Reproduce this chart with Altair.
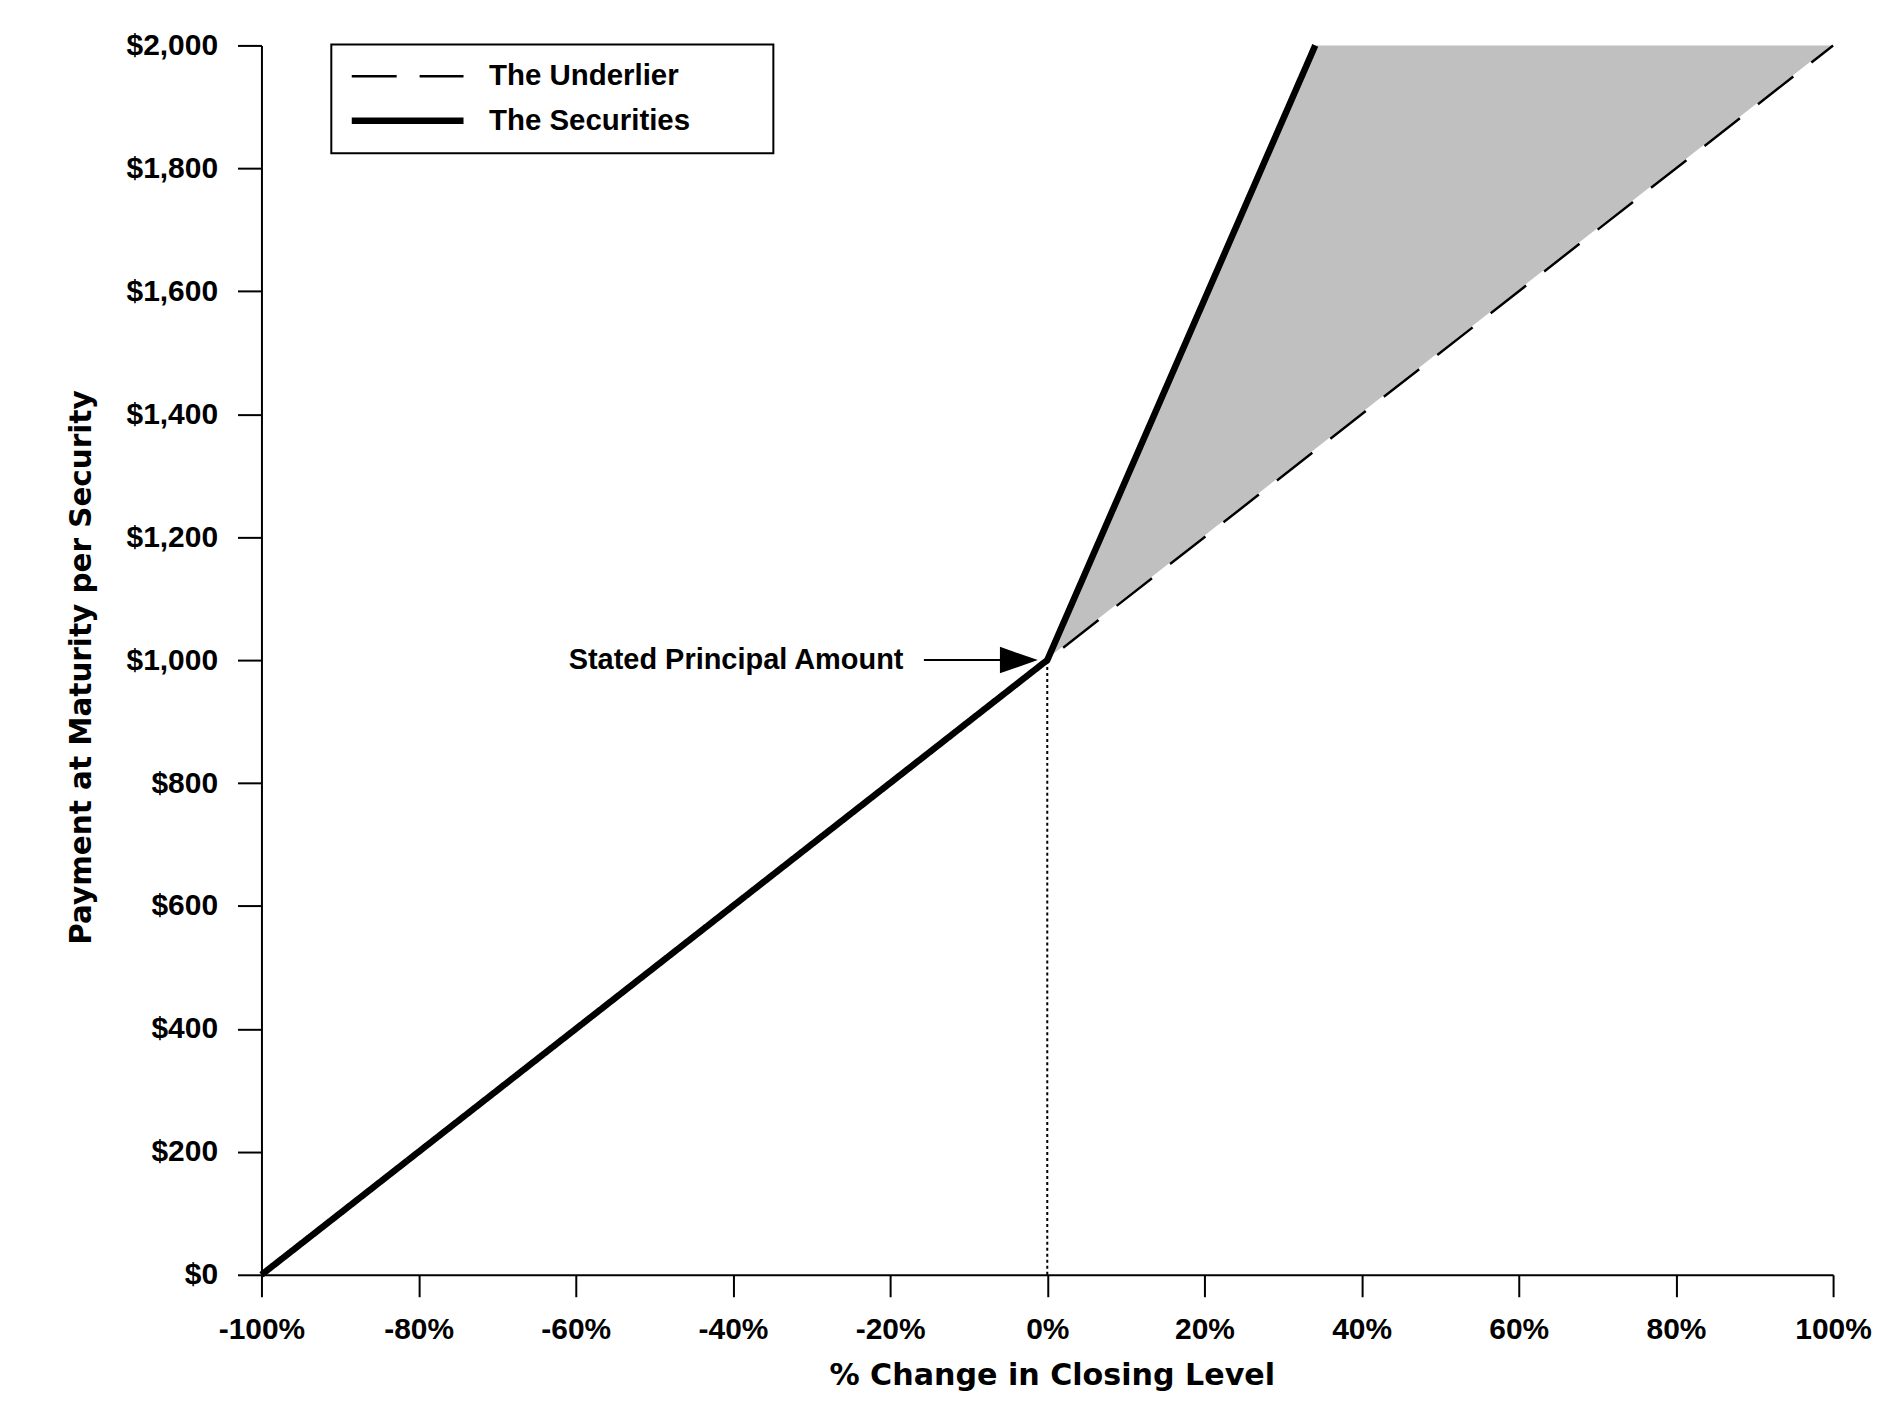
import altair as alt
import pandas as pd

# ---- data ----
series_names = ["The Underlier", "The Securities"]

underlier_pct = [-100, 100]
underlier_val = [0, 2000]

securities_pct = [-100, 0, 34.1]
securities_val = [0, 1000, 2000]

# shaded region between the securities and the underlier (above 0%)
area_pct = [0, 34.1, 100]
area_top = [1000, 2000, 2000]
area_bottom = [1000, 1341, 2000]

x_ticks = [-100, -80, -60, -40, -20, 0, 20, 40, 60, 80, 100]
y_ticks = [0, 200, 400, 600, 800, 1000, 1200, 1400, 1600, 1800, 2000]

principal_pct = [0]
principal_low = [0]
principal_val = [1000]

annot_text = ["Stated Principal Amount"]
annot_text_pct = [-18.3]
arrow_start_pct = [-15.7]
arrow_base_pct = [-6.0]
arrow_tip_pct = [-1.2]

# ---- tables ----
lines_df = pd.DataFrame({
    "pct": underlier_pct + securities_pct,
    "val": underlier_val + securities_val,
    "series": [series_names[0]] * len(underlier_pct) + [series_names[1]] * len(securities_pct),
})
und_df = pd.DataFrame({"pct": underlier_pct, "val": underlier_val})
area_df = pd.DataFrame({"pct": area_pct, "top": area_top, "bottom": area_bottom})
rule_df = pd.DataFrame({"pct": principal_pct, "lo": principal_low, "hi": principal_val})
arrow_df = pd.DataFrame({"a1": arrow_start_pct, "a2": arrow_base_pct, "tip": arrow_tip_pct,
                         "val": principal_val, "tx": annot_text_pct, "label": annot_text})

xscale = alt.Scale(domain=[-100, 100], nice=False, zero=False)
yscale = alt.Scale(domain=[0, 2000], nice=False, zero=False)

LABEL_FONT = "Liberation Sans"
TITLE_FONT = "DejaVu Sans"

x_axis = alt.Axis(
    values=x_ticks, labelExpr="datum.value + '%'", grid=False,
    tickSize=22, tickWidth=2, tickColor="black", domainColor="black", domainWidth=2,
    labelFont=LABEL_FONT, labelFontSize=30, labelFontWeight="bold", labelColor="black",
    labelPadding=42, labelBaseline="alphabetic", labelFlush=False, labelOverlap=False,
    title="% Change in Closing Level", titleFont=TITLE_FONT, titleFontSize=30.2,
    titleFontWeight="bold", titleColor="black", titleX=792, titleY=110,
    titleBaseline="alphabetic", titleAlign="center",
)
y_axis = alt.Axis(
    values=y_ticks, format="$,.0f", grid=False,
    tickSize=24, tickWidth=2, tickColor="black", domainColor="black", domainWidth=2,
    labelFont=LABEL_FONT, labelFontSize=30, labelFontWeight="bold", labelColor="black",
    labelPadding=20, labelFlush=False, labelOverlap=False,
    title="Payment at Maturity per Security", titleFont=TITLE_FONT, titleFontSize=29.5,
    titleFontWeight="bold", titleColor="black", titleX=-180, titleY=623,
    titleBaseline="middle", titleAlign="center", titleAngle=270,
)

legend = alt.Legend(
    title=None, orient="none", legendX=70, legendY=-1,
    symbolType="stroke", symbolSize=12544, clipHeight=30,
    labelFont=LABEL_FONT, labelFontSize=29.5, labelFontWeight="bold", labelColor="black",
    labelOffset=22, labelLimit=800,
    labelExpr="datum.label + '\u2800\u2800\u2800'",
    padding=17, rowPadding=14.5, strokeColor="black", fillColor="white",
)


def X(field):
    return alt.X(field, scale=xscale, axis=x_axis)


def Y(field):
    return alt.Y(field, scale=yscale, axis=y_axis)


area = alt.Chart(area_df).mark_area(color="#c0c0c0", opacity=1).encode(
    x=X("pct:Q"), y=Y("top:Q"), y2="bottom:Q",
)

under_white = alt.Chart(und_df).mark_line(color="white", strokeWidth=2.5).encode(
    x=X("pct:Q"), y=Y("val:Q"),
)

lines = alt.Chart(lines_df).mark_line(color="black").encode(
    x=X("pct:Q"), y=Y("val:Q"),
    strokeDash=alt.StrokeDash("series:N", scale=alt.Scale(domain=series_names, range=[[45, 23], [1, 0]]), legend=legend),
    strokeWidth=alt.StrokeWidth("series:N", scale=alt.Scale(domain=series_names, range=[2.5, 6.5]), legend=legend),
)

dotted = alt.Chart(rule_df).mark_rule(color="black", strokeDash=[3, 3], strokeWidth=2).encode(
    x=X("pct:Q"), y=Y("lo:Q"), y2="hi:Q",
)

arrow_line = alt.Chart(arrow_df).mark_rule(color="black", strokeWidth=2).encode(
    x=X("a1:Q"), x2="a2:Q", y=Y("val:Q"),
)

arrow_head = alt.Chart(arrow_df).mark_point(
    shape="M0,0L-2,-0.7L-2,0.7Z", size=1444, filled=True, color="black", opacity=1, strokeWidth=0
).encode(
    x=X("tip:Q"), y=Y("val:Q"),
)

annot = alt.Chart(arrow_df).mark_text(
    align="right", baseline="middle", font=LABEL_FONT, fontSize=29, fontWeight="bold", color="black"
).encode(
    x=X("tx:Q"), y=Y("val:Q"), text="label:N",
)

chart = alt.layer(area, under_white, lines, dotted, arrow_line, arrow_head, annot).properties(
    width=1575, height=1232,
    padding={"left": 254, "top": 36, "right": 40, "bottom": 130},
    autosize=alt.AutoSizeParams(type="none"),
    background="white",
).configure_view(stroke=None).configure_legend(strokeWidth=2)

chart.save("out.html", embed_options={"renderer": "svg", "actions": False})
